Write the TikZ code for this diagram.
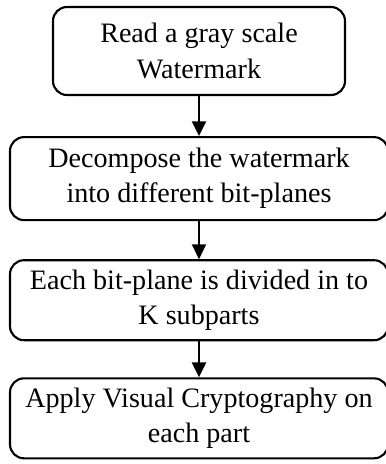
\documentclass[tikz,border=0pt]{standalone}
\usepackage{fontspec}
\setmainfont{Liberation Serif}
\usetikzlibrary{arrows.meta, positioning}
\tikzset{
  every picture/.style={line width=1.5pt},
  stepbox/.style={draw, rounded corners=0.35cm, align=center, minimum width=9.45cm, minimum height=2.0cm, inner sep=2pt, font=\fontsize{20}{25}\selectfont},
  arrow/.style={-{Triangle[length=0.37cm, width=0.35cm]}},
}

\begin{document}
\begin{tikzpicture}
  \useasboundingbox (0,0) rectangle (9.65,-11.6);
  % flow of the watermark steps
  \node[stepbox, minimum width=7.3cm, minimum height=2.2cm] (read) at (4.975,-1.275) {Read a gray scale\\Watermark};
  \node[stepbox, minimum height=2.075cm, below=1.0cm of read] (decomp) {Decompose the watermark\\into different bit-planes};
  \node[stepbox, below=0.95cm of decomp] (divide) {Each bit-plane is divided in to\\K subparts};
  \node[stepbox, below=0.9cm of divide] (apply) {Apply Visual Cryptography on\\each part};
  \draw[arrow] (read) -- (decomp);
  \draw[arrow] (decomp) -- (divide);
  \draw[arrow] (divide) -- (apply);
\end{tikzpicture}
\end{document}
